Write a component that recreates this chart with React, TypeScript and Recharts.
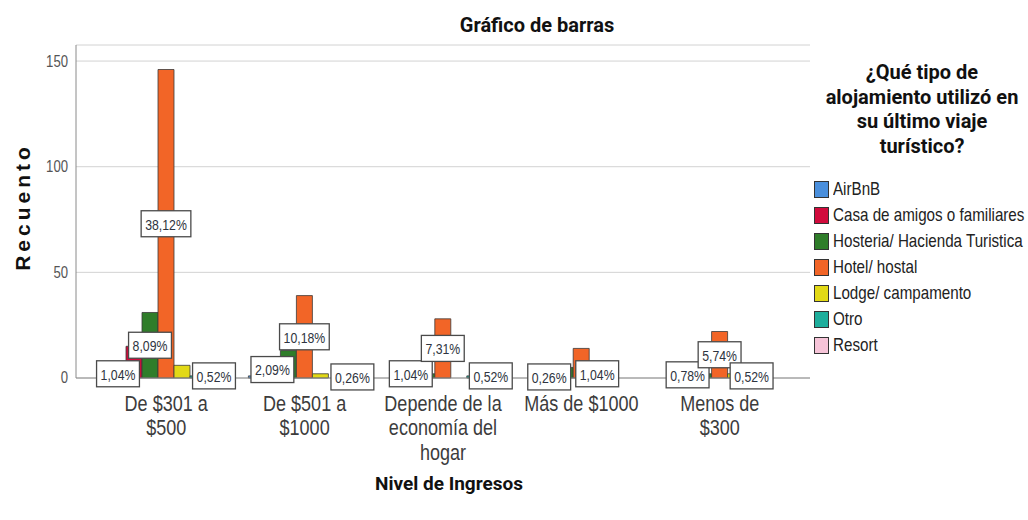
import { BarChart, Bar, XAxis, YAxis, CartesianGrid, Legend, LabelList } from 'recharts';

const categories = [
	'De $301 a $500',
	'De $501 a $1000',
	'Depende de la economía del hogar',
	'Más de $1000',
	'Menos de $300',
];
const categoryLines = [
	['De $301 a', '$500'],
	['De $501 a', '$1000'],
	['Depende de la', 'economía del', 'hogar'],
	['Más de $1000'],
	['Menos de', '$300'],
];

const seriesNames = [
	'AirBnB',
	'Casa de amigos o familiares',
	'Hosteria/ Hacienda Turistica',
	'Hotel/ hostal',
	'Lodge/ campamento',
	'Otro',
	'Resort',
];
const seriesColors = ['#4a8fdc', '#d10b3c', '#2f7d2a', '#f26527', '#e2d916', '#1eae9c', '#f6c4d8'];

// recuento por nivel de ingresos
const airbnb = [4, 1, 0, 0, 0];
const casa = [15, 8, 4, 1, 3];
const hosteria = [31, 13, 2, 5, 2];
const hotel = [146, 39, 28, 14, 22];
const lodge = [6, 2, 0, 4, 2];
const otro = [1, 0, 1, 0, 2];
const resort = [2, 1, 2, 0, 0];

// etiquetas de porcentaje visibles (las demás quedan ocultas)
const airbnbPct = ['1,04%', '', '', '', ''];
const casaPct = ['', '2,09%', '1,04%', '0,26%', '0,78%'];
const hosteriaPct = ['8,09%', '', '', '', ''];
const hotelPct = ['38,12%', '10,18%', '7,31%', '', '5,74%'];
const lodgePct = ['', '', '', '1,04%', ''];
const otroPct = ['', '', '', '', '0,52%'];
const resortPct = ['0,52%', '0,26%', '0,52%', '', ''];

const values = [airbnb, casa, hosteria, hotel, lodge, otro, resort];
const pcts = [airbnbPct, casaPct, hosteriaPct, hotelPct, lodgePct, otroPct, resortPct];

const data = categories.map((name, i) => {
	const row: any = { name, idx: i };
	values.forEach((v, s) => {
		row['s' + s] = v[i];
		row['p' + s] = pcts[s][i];
	});
	return row;
});

const SANS = "'Liberation Sans', Arial, sans-serif";
const BOLD = "Roboto, 'Liberation Sans', sans-serif";
const SQ = 0.82; // horizontal squeeze to mimic a narrow font

const CatTick = (props: any) => {
	const { x, y, payload } = props;
	const lines = categoryLines[payload.index] || [payload.value];
	return (
		<g transform={`translate(${x},${y}) scale(${SQ},1)`}>
			<text x={0} y={0} textAnchor='middle' fill='#3c3c3c' fontSize={22} fontFamily={SANS}>
				{lines.map((l: string, k: number) => (
					<tspan key={k} x={0} dy={k === 0 ? 33 : 24.5}>
						{l}
					</tspan>
				))}
			</text>
		</g>
	);
};

const NumTick = (props: any) => {
	const { x, y, payload } = props;
	return (
		<g transform={`translate(${x},${y}) scale(${SQ},1)`}>
			<text x={0} y={0} textAnchor='end' dominantBaseline='central' fill='#555' fontSize={16} fontFamily={SANS}>
				{payload.value}
			</text>
		</g>
	);
};

const emWidth = (s: string) =>
	s.split('').reduce((a, c) => a + (c === ',' ? 0.278 : c === '%' ? 0.889 : 0.556), 0);

const PctLabel = (props: any) => {
	const { x, y, width, height, value } = props;
	if (!value) return null;
	const cx = Number(x) + Number(width) / 2;
	const cy = Number(y) + Number(height) / 2;
	const w = emWidth(String(value)) * 15 * SQ + 8;
	return (
		<g>
			<rect x={cx - w / 2} y={cy - 13} width={w} height={26} fill='#fff' stroke='#4a4a4a' strokeWidth={1.3} />
			<g transform={`translate(${cx},${cy + 1}) scale(${SQ},1)`}>
				<text x={0} y={0} textAnchor='middle' dominantBaseline='central' fontSize={15} fontFamily={SANS} fill='#2e3440'>
					{value}
				</text>
			</g>
		</g>
	);
};

const LegendBox = () => (
	<div style={{ fontFamily: SANS, color: '#222', width: 228 }}>
		<div
			style={{
				fontFamily: BOLD,
				fontWeight: 700,
				fontSize: 20,
				lineHeight: '24.5px',
				textAlign: 'center',
				width: 240,
				marginLeft: 2,
				marginTop: 6,
				color: '#111',
				whiteSpace: 'nowrap',
			}}
		>
			¿Qué tipo de
			<br />
			alojamiento utilizó en
			<br />
			su último viaje
			<br />
			turístico?
		</div>
		<div style={{ marginTop: 18 }}>
			{seriesNames.map((n, i) => (
				<div key={n} style={{ display: 'flex', alignItems: 'center', height: 26, marginLeft: 14 }}>
					<div
						style={{
							flexShrink: 0,
							width: 13,
							height: 15,
							background: seriesColors[i],
							border: '1px solid #333',
							marginRight: 4,
						}}
					/>
					<span
						style={{
							display: 'inline-block',
							fontSize: 18.5,
							whiteSpace: 'nowrap',
							transform: `scaleX(${SQ})`,
							transformOrigin: '0 50%',
						}}
					>
						{n}
					</span>
				</div>
			))}
		</div>
	</div>
);

export default function App() {
	return (
		<div
			style={{
				position: 'absolute',
				left: 0,
				top: 0,
				width: 1028,
				height: 520,
				background: '#fff',
				overflow: 'hidden',
			}}
		>
			<div
				style={{
					position: 'absolute',
					left: 417,
					width: 240,
					top: 14,
					textAlign: 'center',
					fontFamily: BOLD,
					fontWeight: 700,
					fontSize: 20,
					lineHeight: '22px',
					color: '#111',
				}}
			>
				Gráfico de barras
			</div>
			<BarChart
				width={1028}
				height={520}
				data={data}
				margin={{ top: 45, right: 218, bottom: 0, left: 0 }}
				barCategoryGap={13}
				barGap={0}
			>
				<CartesianGrid vertical={false} stroke='#d2d2d2' />
				<XAxis
					dataKey='name'
					height={142}
					padding={{ left: 21, right: 21 }}
					interval={0}
					tickLine={false}
					tickSize={0}
					tickMargin={0}
					axisLine={{ stroke: '#8a8a8a' }}
					tick={(p: any) => <CatTick {...p} />}
					label={{
						content: () => (
							<text x={449} y={483} textAnchor='middle' dominantBaseline='central' fontFamily={BOLD} fontWeight={700} fontSize={19} fill='#111'>
								Nivel de Ingresos
							</text>
						),
					}}
				/>
				<YAxis
					width={76}
					domain={[0, 157.6]}
					ticks={[0, 50, 100, 150]}
					tickLine={false}
					tickSize={0}
					tickMargin={8}
					axisLine={{ stroke: '#8a8a8a' }}
					tick={(p: any) => <NumTick {...p} />}
					label={{
						content: () => (
							<text
								x={22}
								y={207}
								transform='rotate(-90 22 207)'
								textAnchor='middle'
								dominantBaseline='central'
								fontFamily={SANS}
								fontWeight={700}
								fontSize={21}
								letterSpacing={4}
								fill='#111'
							>
								Recuento
							</text>
						),
					}}
				/>
				{seriesNames.map((n, i) => (
					<Bar key={n} dataKey={'s' + i} name={n} fill={seriesColors[i]} stroke='#3a3a3a' strokeWidth={0.8} isAnimationActive={false}>
						<LabelList dataKey={'p' + i} content={PctLabel} />
					</Bar>
				))}
				<Legend
					layout='vertical'
					align='center'
					verticalAlign='middle'
					content={() => <LegendBox />}
					wrapperStyle={{ left: 800, top: 54, width: 228 }}
				/>
			</BarChart>
		</div>
	);
}
